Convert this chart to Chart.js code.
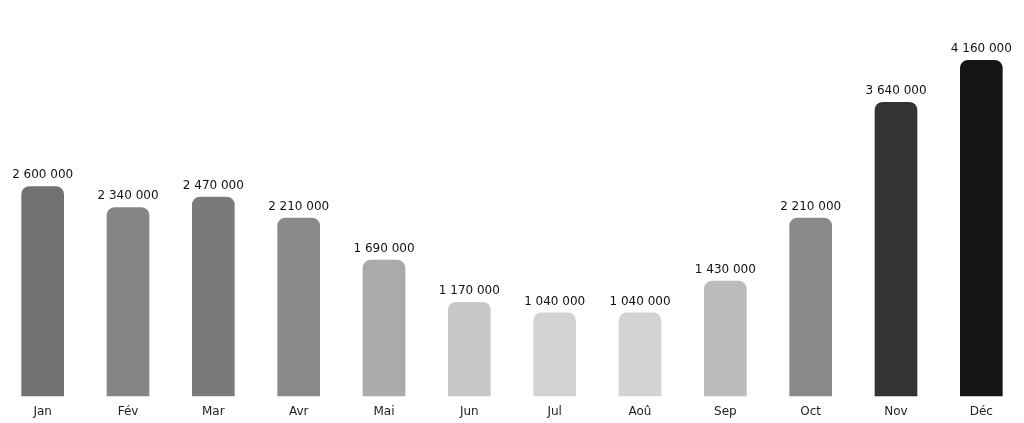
<!DOCTYPE html>
<html>
<head>
<meta charset="UTF-8">
<script src="https://cdn.jsdelivr.net/npm/chart.js"></script>
<style>
  html, body { margin: 0; padding: 0; background: #fff; }
  #wrap { width: 1024px; height: 423px; }
</style>
</head>
<body>
<div id="wrap"><canvas id="chart"></canvas></div>
<script>
const months = ['Jan', 'Fév', 'Mar', 'Avr', 'Mai', 'Jun', 'Jul', 'Aoû', 'Sep', 'Oct', 'Nov', 'Déc'];
const values = [2600000, 2340000, 2470000, 2210000, 1690000, 1170000, 1040000, 1040000, 1430000, 2210000, 3640000, 4160000];
const barColors = ['#727272', '#858585', '#7a7a7a', '#8a8a8a', '#aaaaaa', '#c8c8c8', '#d3d3d3', '#d3d3d3', '#bcbcbc', '#8a8a8a', '#333333', '#151515'];

function fmt(v) {
    return String(v).replace(/\B(?=(\d{3})+(?!\d))/g, ' ');
}

const valueLabels = {
    id: 'valueLabels',
    afterDatasetsDraw(chart) {
        const ctx = chart.ctx;
        const meta = chart.getDatasetMeta(0);
        ctx.save();
        ctx.font = '12px "DejaVu Sans"';
        ctx.fillStyle = '#111';
        ctx.textAlign = 'center';
        ctx.textBaseline = 'bottom';
        meta.data.forEach((bar, i) => {
            ctx.fillText(fmt(values[i]), bar.x, bar.y - 5);
        });
        ctx.restore();
    }
};

new Chart(document.getElementById('chart'), {
    type: 'bar',
    data: {
        labels: months,
        datasets: [{
            data: values,
            backgroundColor: barColors,
            borderRadius: { topLeft: 8, topRight: 8, bottomLeft: 0, bottomRight: 0 },
            borderSkipped: 'bottom',
            barPercentage: 0.5,
            categoryPercentage: 1.0
        }]
    },
    options: {
        responsive: true,
        maintainAspectRatio: false,
        animation: false,
        layout: { padding: { top: 0, bottom: 4, left: 0, right: 0 } },
        plugins: { legend: { display: false }, tooltip: { enabled: false } },
        scales: {
            x: {
                grid: { display: false },
                border: { display: false },
                ticks: { color: '#222', font: { family: 'DejaVu Sans', size: 12 }, padding: 0 }
            },
            y: { display: false, min: 0, max: 4900000 }
        }
    },
    plugins: [valueLabels]
});
</script>
</body>
</html>
